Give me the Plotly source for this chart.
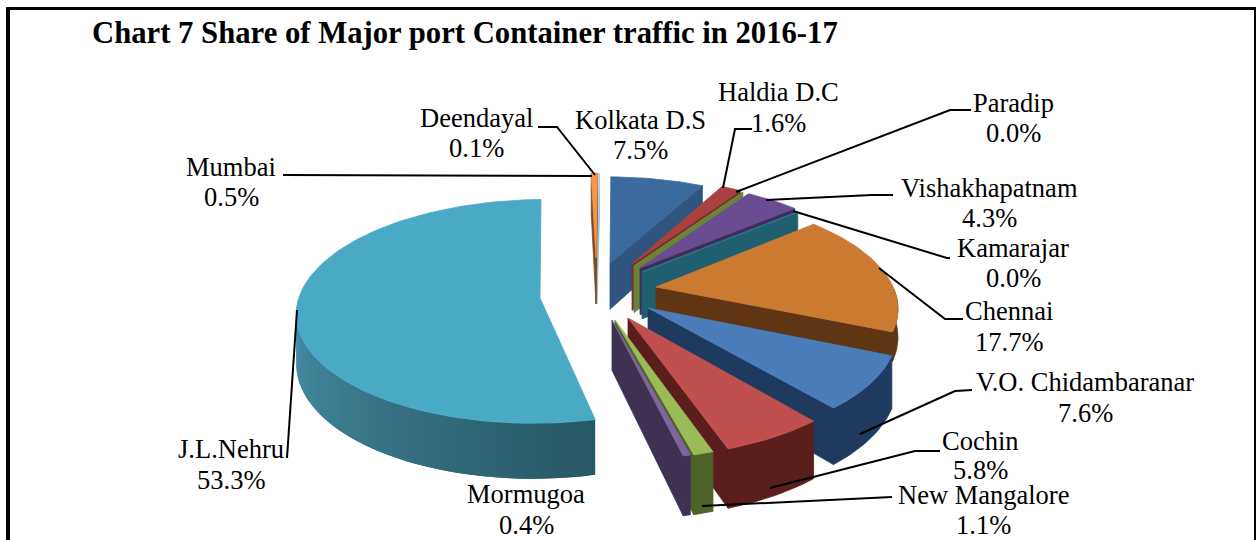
import math
import plotly.graph_objects as go

# ---------- data ----------
PORTS = ["Kolkata D.S", "Haldia D.C", "Paradip", "Vishakhapatnam", "Kamarajar", "Chennai",
         "V.O. Chidambaranar", "Cochin", "New Mangalore", "Mormugoa", "J.L.Nehru", "Mumbai", "Deendayal"]
SHARES = [7.5, 1.6, 0.04, 4.3, 0.04, 17.7, 7.6, 5.8, 1.1, 0.4, 53.3, 0.5, 0.1]
TOP_COLORS = ["#3B6A9E", "#A9423F", "#6F8B38", "#6A4C93", "#2E7F95", "#CB7A32", "#4A7DBA",
              "#C0504D", "#9BBB59", "#8064A2", "#4AA9C5", "#F79646", "#BCD0E6"]
WALL_COLORS = ["#2F5580", "#7A2F2D", "#6A8235", "#3F2D5A", "#1F5F70", "#5F3514", "#1F3A5F",
               "#5A1E1C", "#4F6228", "#3F3151", "#4A93AD", "#7F4A20", "#9FB4CC"]
WALL_FAR_COLORS = [None] * 10 + ["#275864"] + [None] * 2
TITLE = "Chart 7 Share of Major port Container traffic in 2016-17"

# ---------- layout of the exploded slices ----------
TIP_X = [610, 632, 634, 640, 642, 656, 648, 628, 615, 612, 540, 596, 597]
TIP_Y = [263, 264, 266, 268, 272, 287, 308, 318, 320, 320, 298, 258, 258]
PERSPECTIVE = [0.16] * 10 + [0.12] + [0.16] * 2
DEPTH = [49, 49, 49, 49, 49, 28, 49, 49, 49, 49, 49, 49, 49]
LABEL_X = [640, 778, 1013, 989, 1013, 1009, 1085, 980, 983, 526, 231, 231, 476]
LABEL_Y1 = [120, 92, 103, 188, 248, 311, 382, 441, 495, 494, 449, 167, 118]
LABEL_Y2 = [150, 123, 133, 218, 278, 342, 413, 470, 525, 525, 480, 197, 148]
LEADERS = [
    [(752, 129), (735, 129), (723, 188)],
    [(971, 110), (950, 110), (736, 192)],
    [(893, 195), (872, 195), (766, 200)],
    [(950, 258), (947, 258), (793, 211)],
    [(963, 319), (945, 319), (879, 268)],
    [(972, 390), (955, 391), (860, 434)],
    [(940, 451), (915, 451), (770, 488)],
    [(892, 497), (702, 506)],
    [(287, 458), (297, 310)],
    [(283, 175), (592, 176)],
    [(538, 127), (557, 127), (595, 175)],
]
CX, CY, R, K, ROT = 590.0, 301.0, 242.0, 111.0, 1.0


def project(U, V, p, t, z=0.0):
    s = 1.0 / (1.0 - p * V)
    return CX + R * U * s, CY + K * V * s + z * t * s


def tip_world(ax, ay, p):
    t = (ay - CY) / K
    V = t / (1 + p * t)
    U = (ax - CX) / R * (1 - p * V)
    return U, V


def mix(c1, c2, f):
    a = [int(c1[i:i + 2], 16) for i in (1, 3, 5)]
    b = [int(c2[i:i + 2], 16) for i in (1, 3, 5)]
    return "#%02x%02x%02x" % tuple(round(x + (y - x) * f) for x, y in zip(a, b))


fig = go.Figure()


def poly(pts, color, width=0.8):
    xs = [q[0] for q in pts]
    ys = [q[1] for q in pts]
    fig.add_trace(go.Scatter(x=xs + [xs[0]], y=ys + [ys[0]], mode="lines", fill="toself",
                             fillcolor=color, line=dict(color=color, width=width),
                             hoverinfo="skip", showlegend=False))


total = sum(SHARES)
order = [12, 11, 10] + list(range(10))
starts, acc = [], ROT
for v in SHARES:
    starts.append(acc)
    acc += v / total * 360

for i in order:
    a0 = starts[i]
    a1 = a0 + SHARES[i] / total * 360
    pp, depth = PERSPECTIVE[i], DEPTH[i]
    U0, V0 = tip_world(TIP_X[i], TIP_Y[i], pp)
    n = max(2, int((a1 - a0) / 1.5) + 2)
    angs = [a0 + (a1 - a0) * j / (n - 1) for j in range(n)]
    rim = [(U0 + math.sin(math.radians(a)), V0 - math.cos(math.radians(a))) for a in angs]
    wall = WALL_COLORS[i]
    tip_hi = project(U0, V0, pp, depth)
    tip_lo = project(U0, V0, pp, depth, 1)
    # cut faces turned to the viewer
    if math.sin(math.radians(a1)) > 0:
        poly([tip_hi, project(*rim[-1], pp, depth), project(*rim[-1], pp, depth, 1), tip_lo], wall)
    if math.sin(math.radians(a0)) < 0:
        poly([tip_hi, project(*rim[0], pp, depth), project(*rim[0], pp, depth, 1), tip_lo], wall)
    # outer wall, facing the viewer
    vis = [j for j in range(n) if 90 <= angs[j] <= 270]
    far = WALL_FAR_COLORS[i]
    if len(vis) > 1:
        if far is None:
            poly([project(*rim[j], pp, depth) for j in vis] +
                 [project(*rim[j], pp, depth, 1) for j in reversed(vis)], wall)
        else:
            for a, b in zip(vis, vis[2:] + [vis[-1]]):
                if a != b:
                    col = mix(far, wall, (angs[a] - a0) / (270 - a0))
                    poly([project(*rim[a], pp, depth), project(*rim[b], pp, depth),
                          project(*rim[b], pp, depth, 1), project(*rim[a], pp, depth, 1)], col, 0)
    # top
    poly([tip_hi] + [project(*r, pp, depth) for r in rim], TOP_COLORS[i])

for seg in LEADERS:
    fig.add_trace(go.Scatter(x=[q[0] for q in seg], y=[q[1] for q in seg], mode="lines",
                             line=dict(color="#000000", width=2), hoverinfo="skip", showlegend=False))

FONT = "Liberation Serif"
for i, name in enumerate(PORTS):
    for y, txt in ((LABEL_Y1[i], name), (LABEL_Y2[i], f"{SHARES[i]:.1f}%")):
        fig.add_annotation(x=LABEL_X[i], y=y, text=txt, showarrow=False, xanchor="center", yanchor="middle",
                           font=dict(family=FONT, size=26.5, color="#000000"))

fig.add_annotation(x=90, y=33, text=f"<b>{TITLE}</b>", showarrow=False, xanchor="left", yanchor="middle",
                   font=dict(family=FONT, size=30.7, color="#000000"))

fig.add_shape(type="line", x0=6, y0=8.5, x1=1256, y1=8.5, line=dict(color="#000000", width=3))
fig.add_shape(type="line", x0=8, y0=7, x1=8, y1=540, line=dict(color="#000000", width=4))
fig.add_shape(type="line", x0=1255, y0=7, x1=1255, y1=540, line=dict(color="#000000", width=2))

fig.update_layout(width=1256, height=540, margin=dict(l=0, r=0, t=0, b=0), paper_bgcolor="#ffffff",
                  plot_bgcolor="#ffffff", showlegend=False,
                  xaxis=dict(range=[0, 1256], visible=False, fixedrange=True),
                  yaxis=dict(range=[540, 0], visible=False, fixedrange=True))
fig.write_html("out.html", config={"displayModeBar": False},
               post_script="document.body.style.margin='0';document.body.style.overflow='hidden';")
